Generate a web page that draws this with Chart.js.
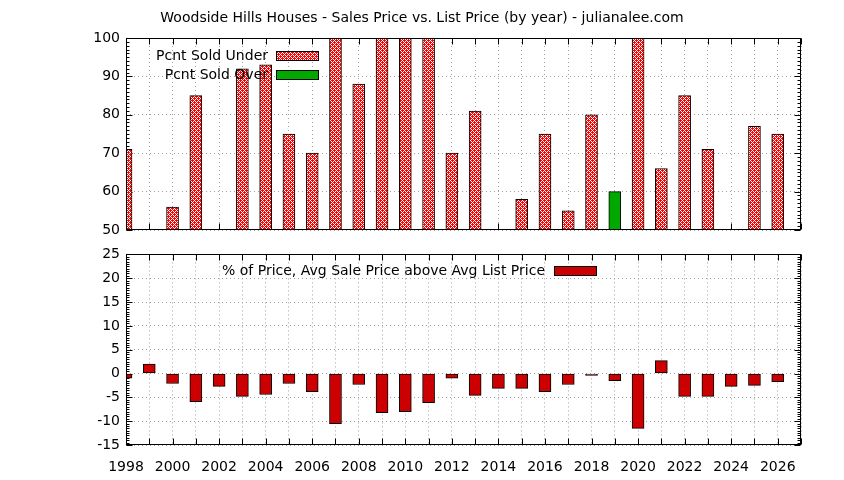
<!DOCTYPE html>
<html>
<head>
<meta charset="utf-8">
<script src="https://cdn.jsdelivr.net/npm/chart.js@4.4.1/dist/chart.umd.min.js"></script>
<style>
  html, body { margin: 0; padding: 0; background: #fff; }
  #wrap { position: relative; width: 844px; height: 480px; }
  canvas { position: absolute; left: 0; }
</style>
</head>
<body>
<div id="wrap">
  <canvas id="topChart" width="844" height="250" style="top:0"></canvas>
  <canvas id="bottomChart" width="844" height="240" style="top:240px"></canvas>
</div>
<script>
// data
const years = [1998, 1999, 2000, 2001, 2002, 2003, 2004, 2005, 2006, 2007,
               2008, 2009, 2010, 2011, 2012, 2013, 2014, 2015, 2016, 2017,
               2018, 2019, 2020, 2021, 2022, 2023, 2024, 2025, 2026];
const pcntSoldUnder = [71, null, 56, 85, null, 92, 93, 75, 70, 100,
                       88, 100, 100, 100, 70, 81, null, 58, 75, 55,
                       80, null, 100, 66, 85, 71, null, 77, 75];
const pcntSoldOver = [null, null, null, null, null, null, null, null, null, null,
                      null, null, null, null, null, null, null, null, null, null,
                      null, 60, null, null, null, null, null, null, null];
const pricePct = [-1.0, 2.0, -2.1, -5.9, -2.7, -4.8, -4.4, -2.1, -3.8, -10.5,
                  -2.3, -8.2, -8.0, -6.1, -1.0, -4.6, -3.1, -3.1, -3.8, -2.3,
                  -0.4, -1.5, -11.5, 2.7, -4.8, -4.8, -2.7, -2.5, -1.7];
const xTickLabels = [1998, 2000, 2002, 2004, 2006, 2008, 2010, 2012,
                     2014, 2016, 2018, 2020, 2022, 2024, 2026];
const topYTicks = [50, 60, 70, 80, 90, 100];
const bottomYTicks = [-15, -10, -5, 0, 5, 10, 15, 20, 25];

const titleText = 'Woodside Hills Houses - Sales Price vs. List Price (by year) - julianalee.com';
const FONT = "'DejaVu Sans', sans-serif";

Chart.defaults.font.family = FONT;
Chart.defaults.font.size = 14;
Chart.defaults.color = '#000';

const xMin = years[0];
const xMax = years[years.length - 1] + 1;

const toPoints = vals => years.map((yr, i) => ({ x: yr, y: vals[i] }));

// red crosshatch like the gnuplot pattern fill
function makeHatch() {
  const c = document.createElement('canvas');
  c.width = 4; c.height = 4;
  const g = c.getContext('2d');
  g.fillStyle = '#ff0000';
  g.fillRect(0, 0, 4, 4);
  g.fillStyle = '#fff';
  for (let i = 0; i < 4; i++) {
    for (let j = 0; j < 4; j++) {
      if ((i + j) % 4 === 2 || (i - j + 4) % 4 === 2) g.fillRect(i, j, 1, 1);
    }
  }
  return g.createPattern(c, 'repeat');
}
const hatch = makeHatch();

// inward tic marks, behind the boxes
const ticsPlugin = {
  id: 'tics',
  beforeDatasetsDraw(chart, args, opts) {
    const { ctx, chartArea: a, scales: { x, y } } = chart;
    const L = Math.round(a.left) + 0.5, R = Math.round(a.right) - 0.5;
    const T = Math.round(a.top) + 0.5, B = Math.round(a.bottom) - 0.5;
    ctx.save();
    ctx.strokeStyle = '#000';
    ctx.lineWidth = 1;
    ctx.beginPath();
    x.ticks.forEach(t => {
      const px = Math.round(x.getPixelForValue(t.value)) + 0.5;
      ctx.moveTo(px, T); ctx.lineTo(px, T + opts.major);
      ctx.moveTo(px, B); ctx.lineTo(px, B - opts.major);
    });
    const n = Math.round((y.max - y.min) / opts.minorStep);
    for (let k = 0; k <= n; k++) {
      const v = y.min + k * opts.minorStep;
      const py = Math.round(y.getPixelForValue(v)) + 0.5;
      const len = opts.majors.includes(Math.round(v * 10) / 10) ? opts.major : opts.minor;
      ctx.moveTo(L, py); ctx.lineTo(L + len, py);
      ctx.moveTo(R, py); ctx.lineTo(R - len, py);
    }
    ctx.stroke();
    ctx.restore();
  }
};

// black border box + key, on top
const framePlugin = {
  id: 'frame',
  afterDatasetsDraw(chart, args, opts) {
    const { ctx, chartArea: a } = chart;
    const L = Math.round(a.left) + 0.5, R = Math.round(a.right) - 0.5;
    const T = Math.round(a.top) + 0.5, B = Math.round(a.bottom) - 0.5;
    ctx.save();
    ctx.strokeStyle = '#000';
    ctx.lineWidth = 1;
    ctx.strokeRect(L, T, R - L, B - T);

    ctx.font = '14px ' + FONT;
    ctx.textAlign = 'right';
    ctx.textBaseline = 'middle';
    chart.data.datasets.forEach((ds, i) => {
      const yy = Math.round(a.top + opts.keyTop + i * opts.keyGap);
      ctx.fillStyle = '#000';
      ctx.fillText(ds.label, a.left + opts.textRight, yy);
      const sx = Math.round(a.left + opts.swatchLeft);
      ctx.fillStyle = ds.backgroundColor;
      ctx.fillRect(sx, yy - 5, opts.swatchWidth, 10);
      ctx.strokeRect(sx + 0.5, yy - 4.5, opts.swatchWidth - 1, 9);
    });

    if (opts.title) {
      ctx.textAlign = 'center';
      ctx.fillStyle = '#000';
      ctx.fillText(opts.title, chart.width / 2, 18);
    }
    ctx.restore();
  }
};

const gridStyle = { color: '#a0a0a0', lineWidth: 1, drawTicks: false };
const borderStyle = { display: false, dash: [1, 3] };

const barStyle = {
  barThickness: 12,
  borderColor: '#000',
  borderWidth: 1,
  borderSkipped: false,
  grouped: false,
  clip: 0
};

// top panel
new Chart(document.getElementById('topChart'), {
  type: 'bar',
  data: {
    datasets: [
      Object.assign({ label: 'Pcnt Sold Under', data: toPoints(pcntSoldUnder), backgroundColor: hatch }, barStyle),
      Object.assign({ label: 'Pcnt Sold Over', data: toPoints(pcntSoldOver), backgroundColor: '#00a800' }, barStyle)
    ]
  },
  options: {
    responsive: false,
    animation: false,
    layout: { padding: { top: 38, right: 43, bottom: 20, left: 0 } },
    scales: {
      x: {
        type: 'linear',
        offset: false,
        min: xMin,
        max: xMax,
        ticks: { display: false, stepSize: 1 },
        grid: Object.assign({ offset: false }, gridStyle),
        border: borderStyle,
        afterFit: s => { s.height = 0; }
      },
      y: {
        min: topYTicks[0],
        max: topYTicks[topYTicks.length - 1],
        ticks: {
          stepSize: 10,
          padding: 6,
          callback: v => topYTicks.includes(v) ? String(v) : ''
        },
        grid: gridStyle,
        border: borderStyle,
        afterFit: s => { s.width = 126; }
      }
    },
    plugins: {
      legend: { display: false },
      tooltip: { enabled: false },
      tics: { major: 6, minor: 3, minorStep: 1, majors: topYTicks },
      frame: { keyTop: 18, keyGap: 19, textRight: 142, swatchLeft: 150, swatchWidth: 43, title: titleText }
    }
  },
  plugins: [ticsPlugin, framePlugin]
});

// bottom panel
new Chart(document.getElementById('bottomChart'), {
  type: 'bar',
  data: {
    datasets: [
      Object.assign({ label: '% of Price, Avg Sale Price above Avg List Price', data: toPoints(pricePct), backgroundColor: '#cc0000' }, barStyle)
    ]
  },
  options: {
    responsive: false,
    animation: false,
    layout: { padding: { top: 14, right: 43, bottom: 0, left: 0 } },
    scales: {
      x: {
        type: 'linear',
        offset: false,
        min: xMin,
        max: xMax,
        ticks: {
          stepSize: 1,
          autoSkip: false,
          maxRotation: 0,
          padding: 14,
          callback: v => xTickLabels.includes(v) ? String(v) : ''
        },
        grid: Object.assign({ offset: false }, gridStyle),
        border: borderStyle,
        afterFit: s => { s.height = 35; }
      },
      y: {
        min: bottomYTicks[0],
        max: bottomYTicks[bottomYTicks.length - 1],
        ticks: {
          stepSize: 5,
          padding: 6,
          callback: v => bottomYTicks.includes(v) ? String(v) : ''
        },
        grid: gridStyle,
        border: borderStyle,
        afterFit: s => { s.width = 126; }
      }
    },
    plugins: {
      legend: { display: false },
      tooltip: { enabled: false },
      tics: { major: 6, minor: 3, minorStep: 0.5, majors: bottomYTicks },
      frame: { keyTop: 17, keyGap: 19, textRight: 419, swatchLeft: 428, swatchWidth: 43 }
    }
  },
  plugins: [ticsPlugin, framePlugin]
});
</script>
</body>
</html>
